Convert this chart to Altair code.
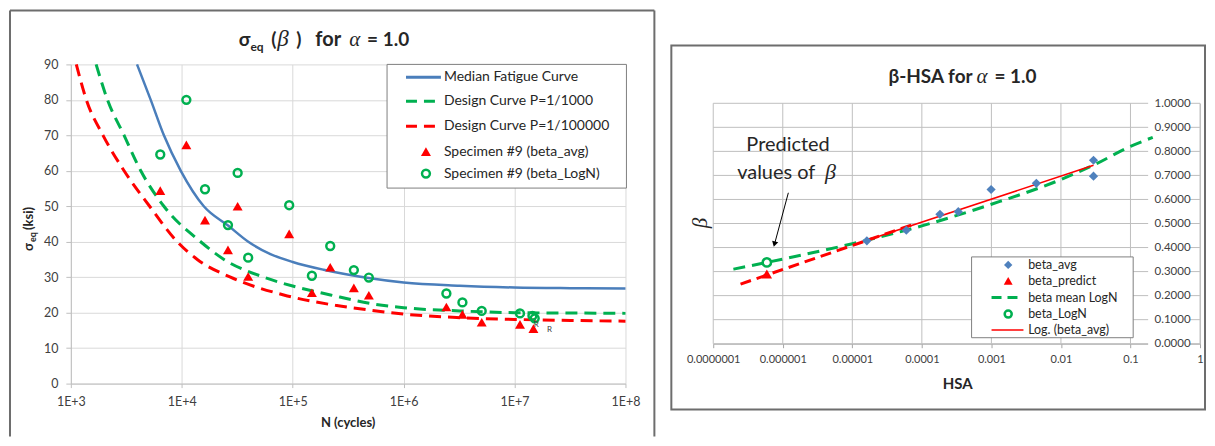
import altair as alt
import pandas as pd

# ---------------- Left chart data : sigma_eq vs N ----------------
left_x_ticks = [1e3, 1e4, 1e5, 1e6, 1e7, 1e8]
left_y_ticks = [0, 10, 20, 30, 40, 50, 60, 70, 80, 90]

median_N = [3.95e3, 5.25e3, 6.9e3, 9.8e3, 1.58e4, 2.63e4, 3.98e4, 6.3e4, 1.0e5, 1.9e5, 5.0e5, 1.0e6, 3.2e6, 1.0e7, 3.2e7, 1.0e8]
median_S = [90, 80, 70, 60, 50, 44.5, 40, 36.5, 34.3, 32.1, 29.7, 28.5, 27.6, 27.1, 26.9, 26.8]
p1000_N = [1.69e3, 2.14e3, 3.02e3, 4.27e3, 6.9e3, 1.48e4, 2.4e4, 5.5e4, 1.0e5, 2.19e5, 5.0e5, 1.0e6, 3.2e6, 1.0e7, 3.2e7, 1.0e8]
p1000_S = [90, 80, 70, 60, 50, 40, 35, 30, 27.5, 25, 22.6, 21.4, 20.5, 20.0, 19.9, 19.8]
p100000_N = [1.12e3, 1.38e3, 1.95e3, 3.02e3, 5.13e3, 9.1e3, 1.38e4, 2.75e4, 8.3e4, 2.5e5, 5.0e5, 1.0e6, 3.2e6, 1.0e7, 3.2e7, 1.0e8]
p100000_S = [90, 80, 70, 60, 50, 40, 35, 30, 25, 22, 20.7, 19.6, 18.6, 18.1, 17.8, 17.6]

avg_N = [6.4e3, 1.1e4, 1.62e4, 2.61e4, 3.19e4, 3.97e4, 9.3e4, 1.49e5, 2.18e5, 3.56e5, 4.86e5, 2.43e6, 3.39e6, 5.06e6, 1.12e7, 1.48e7]
avg_S = [54.4, 67.3, 46.1, 37.7, 50.0, 30.2, 42.2, 25.6, 32.8, 27.0, 24.9, 21.6, 19.5, 17.3, 16.7, 15.5]
logn_N = [6.4e3, 1.1e4, 1.62e4, 2.61e4, 3.19e4, 3.97e4, 9.3e4, 1.49e5, 2.18e5, 3.56e5, 4.86e5, 2.43e6, 3.39e6, 5.06e6, 1.12e7, 1.45e7, 1.52e7]
logn_S = [64.6, 80.0, 54.8, 44.7, 59.4, 35.5, 50.3, 30.4, 38.8, 32.0, 29.9, 25.4, 22.9, 20.5, 19.8, 19.1, 18.4]
runout_N = [1.57e7, 2.07e7]
runout_S = [16.4, 15.2]
runout_txt = ["R", "R"]

left_legend = ["Median Fatigue Curve", "Design Curve P=1/1000", "Design Curve P=1/100000",
               "Specimen #9 (beta_avg)", "Specimen #9 (beta_LogN)"]

# ---------------- Right chart data : beta vs HSA ----------------
right_x_ticks = [1e-7, 1e-6, 1e-5, 1e-4, 1e-3, 1e-2, 1e-1, 1.0]
right_y_ticks = [0.0, 0.1, 0.2, 0.3, 0.4, 0.5, 0.6, 0.7, 0.8, 0.9, 1.0]

hsa_avg = [1.62e-5, 5.98e-5, 1.82e-4, 3.34e-4, 9.9e-4, 4.43e-3, 2.94e-2, 2.94e-2]
beta_avg = [0.428, 0.472, 0.538, 0.549, 0.6415, 0.667, 0.763, 0.697]
hsa_pred = [5.9e-7]
beta_pred = [0.29]
hsa_logn = [5.9e-7]
beta_logn = [0.338]
mean_hsa = [1.95e-7, 1e-6, 1e-5, 1e-4, 1e-3, 1e-2, 3.16e-2, 0.1, 0.209]
mean_beta = [0.31, 0.352, 0.416, 0.49, 0.58, 0.683, 0.747, 0.821, 0.858]
ext_hsa = [2.47e-7, 8.0e-5]
ext_beta = [0.248, 0.499]
trend_hsa = [1.62e-5, 2.94e-2]
trend_beta = [0.430, 0.742]

right_legend = ["beta_avg", "beta_predict", "beta mean LogN", "beta_LogN", "Log. (beta_avg)"]

# ---------------- styling ----------------
FONT = "Lato, 'Noto Sans', sans-serif"
MATH = "'Liberation Serif', 'DejaVu Serif', serif"
RED = "#ff0000"
GREEN = "#00b050"
BLUE = "#4a7ebb"
DIAM = "#4f81bd"
FRAME = "#6d6d6d"
W1, H1 = 556, 320
W2 = 488
TOP2 = 39            # right plot starts 39px lower than the left one
H2 = TOP2 + 241      # right view height (plot area occupies TOP2..H2)


def one():
    return pd.DataFrame({"a": [0]})


def text_mark(s, x, y, size, weight="normal", style="normal", font=FONT, color="#262626",
              align="left", baseline="alphabetic", angle=None):
    kw = dict(text=s, fontSize=size, fontWeight=weight, fontStyle=style, font=font,
              color=color, align=align, baseline=baseline)
    if angle is not None:
        kw["angle"] = angle
    return alt.Chart(one()).mark_text(**kw).encode(x=alt.value(x), y=alt.value(y))


def seg(x1, y1, x2, y2, color, width, dash=None):
    kw = dict(color=color, strokeWidth=width)
    if dash:
        kw["strokeDash"] = dash
    return alt.Chart(one()).mark_rule(**kw).encode(
        x=alt.value(x1), y=alt.value(y1), x2=alt.value(x2), y2=alt.value(y2))


def sym(x, y, shape, size, color, filled=True, sw=1, angle=None):
    kw = dict(shape=shape, size=size, color=color, filled=filled, opacity=1, strokeWidth=sw)
    if angle is not None:
        kw["angle"] = angle
    return alt.Chart(one()).mark_point(**kw).encode(x=alt.value(x), y=alt.value(y))


def box(x1, y1, x2, y2, stroke, sw, fill=None):
    kw = dict(stroke=stroke, strokeWidth=sw)
    if fill:
        kw["fill"] = fill
    else:
        kw["filled"] = False
    return alt.Chart(one()).mark_rect(**kw).encode(
        x=alt.value(x1), x2=alt.value(x2), y=alt.value(y1), y2=alt.value(y2))


# ================= LEFT CHART =================
xs1 = alt.Scale(type="log", domain=[1e3, 1e8], nice=False)
ys1 = alt.Scale(domain=[0, 90], nice=False)
ax1x = alt.Axis(values=left_x_ticks, labelExpr="'1E+' + round(log(datum.value) / LN10)", title=None,
                grid=True, gridColor="#d9d9d9", domainColor="#bfbfbf", tickColor="#bfbfbf", tickSize=4,
                labelFont=FONT, labelFontSize=12.5, labelColor="#404040", labelPadding=8, labelFlush=False)
ax1y = alt.Axis(values=left_y_ticks, title=None, grid=True, gridColor="#d9d9d9", domainColor="#bfbfbf",
                tickColor="#bfbfbf", tickSize=5, labelFont=FONT, labelFontSize=12.5, labelColor="#404040",
                labelPadding=8)


def lcurve(N, S, color, width, dash=None):
    kw = dict(color=color, strokeWidth=width, interpolate="monotone")
    if dash:
        kw["strokeDash"] = dash
    return alt.Chart(pd.DataFrame({"N": N, "S": S})).mark_line(**kw).encode(
        x=alt.X("N:Q", scale=xs1, axis=ax1x), y=alt.Y("S:Q", scale=ys1, axis=ax1y))


median = lcurve(median_N, median_S, BLUE, 2.5)
d1000 = lcurve(p1000_N, p1000_S, GREEN, 3, [12, 7])
d100000 = lcurve(p100000_N, p100000_S, RED, 3, [12, 7])

tri = alt.Chart(pd.DataFrame({"N": avg_N, "S": avg_S})).mark_point(
    shape="triangle-up", filled=True, size=100, color=RED, opacity=1).encode(
    x=alt.X("N:Q", scale=xs1, axis=ax1x), y=alt.Y("S:Q", scale=ys1, axis=ax1y))
circ = alt.Chart(pd.DataFrame({"N": logn_N, "S": logn_S})).mark_point(
    shape="circle", filled=False, size=62, strokeWidth=2.5, color=GREEN, opacity=1).encode(
    x=alt.X("N:Q", scale=xs1, axis=ax1x), y=alt.Y("S:Q", scale=ys1, axis=ax1y))
runout = alt.Chart(pd.DataFrame({"N": runout_N, "S": runout_S, "t": runout_txt})).mark_text(
    fontSize=8, font=FONT, color="#404040").encode(
    x=alt.X("N:Q", scale=xs1, axis=ax1x), y=alt.Y("S:Q", scale=ys1, axis=ax1y), text="t:N")

leg_y1 = [13, 37, 62, 87.5, 109.5]
left_layers = [median, d1000, d100000, tri, circ, runout,
               box(317, 0, 557, 124, "#7f7f7f", 1, fill="white"),
               seg(336, leg_y1[0], 371, leg_y1[0], BLUE, 3),
               seg(336, leg_y1[1], 371, leg_y1[1], GREEN, 3, [11, 7]),
               seg(336, leg_y1[2], 371, leg_y1[2], RED, 3, [11, 7]),
               sym(356, leg_y1[3], "triangle-up", 100, RED),
               sym(356, leg_y1[4], "circle", 62, GREEN, filled=False, sw=2.5)]
for lab, yy in zip(left_legend, leg_y1):
    left_layers.append(text_mark(lab, 374, yy, 14, baseline="middle"))

# frame (left, top, right)
left_layers += [seg(-61, -54, -61, 373, FRAME, 2), seg(-61, -54, 585, -54, FRAME, 2),
                seg(585, -54, 585, 373, FRAME, 2)]
# title  sigma_eq (beta) for alpha = 1.0
left_layers += [text_mark("σ", 180, -18, 19, weight="bold", align="right"),
                text_mark("eq", 180, -13, 12, weight="bold"),
                text_mark("(", 206, -18, 19, weight="bold", align="right"),
                text_mark("β", 207, -18, 23, style="italic", font=MATH),
                text_mark(")", 226, -18, 19, weight="bold"),
                text_mark("for", 258, -18, 20, weight="bold", align="center"),
                text_mark("α", 279, -18, 21, style="italic", font=MATH),
                text_mark("= 1.0", 297, -18, 19, weight="bold")]
# y title sigma_eq (ksi)
left_layers += [text_mark("σ", -38, 187, 13, weight="bold", angle=270),
                text_mark("eq", -35, 178, 9, weight="bold", angle=270),
                text_mark("(ksi)", -38, 166, 13, weight="bold", angle=270)]
# x title
left_layers.append(text_mark("N (cycles)", 278, 360, 13, weight="bold", align="center", baseline="middle"))

left = alt.layer(*left_layers).properties(width=W1, height=H1)

# ================= RIGHT CHART =================
xs2 = alt.Scale(type="log", domain=[1e-7, 1], nice=False)
ys2 = alt.Scale(domain=[0, 1], nice=False, range=[H2, TOP2])
ax2x = alt.Axis(values=right_x_ticks, labelExpr="format(datum.value, '.7~f')", title=None, grid=False,
                domainColor="#a6a6a6", tickColor="#a6a6a6", tickSize=4,
                labelFont=FONT, labelFontSize=11, labelColor="#404040", labelPadding=6, labelFlush=False)
ax2y = alt.Axis(values=right_y_ticks, orient="right", format=".4f", title=None, grid=False,
                domainColor="#bfbfbf", ticks=False, tickSize=0, labelAlign="right", labelPadding=-10,
                labelFont=FONT, labelFontSize=11.5, labelColor="#404040", zindex=1)

X2 = alt.X("h:Q", scale=xs2, axis=ax2x)
Y2 = alt.Y("b:Q", scale=ys2, axis=ax2y)

ygrid2 = alt.Chart(pd.DataFrame({"b": right_y_ticks})).mark_rule(color="#bfbfbf", strokeWidth=1).encode(y=Y2)
xgrid2 = alt.Chart(pd.DataFrame({"h": right_x_ticks, "b": [1.0] * len(right_x_ticks),
                                 "b0": [0.0] * len(right_x_ticks)})).mark_rule(
    color="#bfbfbf", strokeWidth=1).encode(x=X2, y=Y2, y2="b0:Q")
labback = alt.Chart(pd.DataFrame({"b": right_y_ticks})).mark_tick(
    color="white", thickness=11, size=42, orient="horizontal", opacity=1).encode(y=Y2, x=alt.value(W2 - 31))


def rline(h, b, color, width, dash=None):
    kw = dict(color=color, strokeWidth=width, interpolate="monotone")
    if dash:
        kw["strokeDash"] = dash
    return alt.Chart(pd.DataFrame({"h": h, "b": b})).mark_line(**kw).encode(x=X2, y=Y2)


mean_line = rline(mean_hsa, mean_beta, GREEN, 3, [12, 7])
ext_line = rline(ext_hsa, ext_beta, RED, 3, [11, 6])
trend_line = rline(trend_hsa, trend_beta, RED, 1.6)
diam = alt.Chart(pd.DataFrame({"h": hsa_avg, "b": beta_avg})).mark_point(
    shape="diamond", filled=True, size=85, color=DIAM, opacity=1).encode(x=X2, y=Y2)
pred = alt.Chart(pd.DataFrame({"h": hsa_pred, "b": beta_pred})).mark_point(
    shape="triangle-up", filled=True, size=110, color=RED, opacity=1).encode(x=X2, y=Y2)
lgn = alt.Chart(pd.DataFrame({"h": hsa_logn, "b": beta_logn})).mark_point(
    shape="circle", filled=False, size=70, strokeWidth=2.5, color=GREEN, opacity=1).encode(x=X2, y=Y2)

T = TOP2
leg_y2 = [T + 162, T + 178, T + 194.7, T + 211.3, T + 227.3]
right_layers = [xgrid2, ygrid2, labback, mean_line, ext_line, trend_line, diam, pred, lgn,
                box(259, T + 154, 421, T + 235, "#7f7f7f", 1, fill="white"),
                sym(295.7, leg_y2[0], "diamond", 70, DIAM),
                sym(295.7, leg_y2[1], "triangle-up", 80, RED),
                seg(279, leg_y2[2], 311, leg_y2[2], GREEN, 3, [10, 6]),
                sym(295.7, leg_y2[3], "circle", 50, GREEN, filled=False, sw=2.5),
                seg(279, leg_y2[4], 311, leg_y2[4], RED, 1.6)]
for lab, yy in zip(right_legend, leg_y2):
    right_layers.append(text_mark(lab, 315.7, yy, 12.5, baseline="middle"))

# annotation
right_layers += [text_mark("Predicted", 75, T + 48, 20, align="center"),
                 text_mark("values of", 24, T + 76, 20),
                 text_mark("β", 112, T + 76, 22, style="italic", font=MATH),
                 seg(75.3, T + 89.7, 61.6, T + 140.6, "#000000", 1),
                 sym(61.4, T + 141.2, "triangle-down", 40, "#000000", angle=15)]
# frame
right_layers.append(box(-42, T - 58, 493, T + 307, FRAME, 2))
# title beta-HSA for alpha = 1.0
right_layers += [text_mark("β-HSA for", 260, T - 20, 19, weight="bold", align="right"),
                 text_mark("α", 264, T - 20, 21, style="italic", font=MATH),
                 text_mark("= 1.0", 282, T - 20, 19, weight="bold")]
# axis titles
right_layers += [text_mark("β", -6, T + 120, 21, style="italic", font=MATH, align="center", angle=270),
                 text_mark("HSA", 245, T + 281, 15, weight="bold", align="center", baseline="middle")]

right = alt.layer(*right_layers).properties(width=W2, height=H2)

chart = alt.hconcat(left, right, spacing=13).properties(padding=0).configure_view(stroke="transparent")
chart.save("out.html", embed_options={"renderer": "svg", "actions": False})
